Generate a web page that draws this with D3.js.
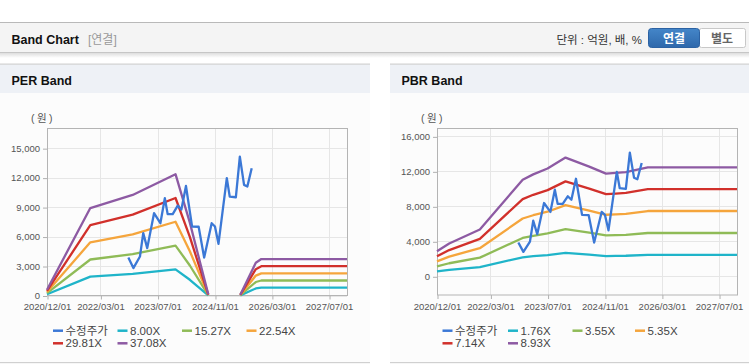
<!DOCTYPE html>
<html><head><meta charset="utf-8">
<script src="https://cdn.jsdelivr.net/npm/d3@7/dist/d3.min.js"></script>
<style>
body{margin:0;background:#fff;}
svg{display:block;font-family:"Liberation Sans",Arial,"Noto Sans CJK KR",sans-serif;}
</style>
</head><body>
<svg id="c" width="749" height="364"></svg>
<script>
// ---------- DATA ----------
const xTickDates = ["2020-12-01","2022-03-01","2023-07-01","2024-11-01","2026-03-01","2027-07-01"];
const xTickLabels = ["2020/12/01","2022/03/01","2023/07/01","2024/11/01","2026/03/01","2027/07/01"];

// 수정주가 (adjusted price) – shared by both charts
const priceDates = ["2022-10-25","2022-12-07","2023-02-01","2023-03-01","2023-04-04","2023-06-01","2023-07-25",
  "2023-09-01","2023-09-25","2023-11-07","2023-12-20","2024-01-20","2024-02-28","2024-04-20","2024-06-15",
  "2024-08-01","2024-10-04","2024-11-01","2024-12-01","2025-02-10","2025-03-07","2025-04-28","2025-06-01",
  "2025-07-07","2025-08-04","2025-09-10"];
const priceValues = [3860,2790,3970,6350,4820,8380,7360,9900,8280,8280,9150,8750,11150,7020,7000,
  3860,7360,7020,5260,11940,10070,10000,14140,11260,11090,12960];

// PER band
const perBandDates = ["2020-12-01","2021-12-05","2022-12-01","2023-12-01","2024-04-01","2024-09-05",
  "2025-01-01","2025-06-05","2025-10-15","2025-12-01","2027-12-01"];
const perLabels = ["8.00X","15.27X","22.54X","29.81X","37.08X"];
const per800  = [128,1920,2208,2664,1600,24,null,16,720,800,800];
const per1527 = [244,3665,4215,5085,3054,46,null,31,1374,1527,1527];
const per2254 = [361,5410,6221,7506,4508,68,null,45,2029,2254,2254];
const per2981 = [477,7154,8228,9927,5962,89,null,60,2683,2981,2981];
const per3708 = [593,8899,10234,12348,7416,111,null,74,3337,3708,3708];
const perYTicks = [0,3000,6000,9000,12000,15000];

// PBR band
const pbrBandDates = ["2020-12-01","2021-03-15","2021-12-01","2022-12-01","2023-03-01","2023-07-01",
  "2023-12-01","2024-06-20","2024-11-10","2025-02-01","2025-04-28","2025-11-01","2027-12-01"];
const pbrLabels = ["1.76X","3.55X","5.35X","7.14X","8.93X"];
const pbr176 = [563,739,1056,2174,2297,2429,2675,2473,2314,2332,2350,2455,2455];
const pbr355 = [1136,1491,2130,4384,4633,4899,5396,4988,4668,4704,4739,4952,4952];
const pbr535 = [1712,2247,3210,6607,6982,7383,8132,7517,7035,7089,7142,7463,7463];
const pbr714 = [2285,2999,4284,8818,9318,9853,10853,10032,9389,9461,9532,9960,9960];
const pbr893 = [2858,3751,5358,11029,11654,12323,13574,12547,11743,11832,11922,12457,12457];
const pbrYTicks = [0,4000,8000,12000,16000];

const priceLabel = "수정주가";
const colors = ["#3b78d6","#1fb4c9","#8fbb57","#f5a53c","#d1302b","#8d5aa3"];

// ---------- DRAW ----------
const svg = d3.select("#c");
const parse = d3.timeParse("%Y-%m-%d");
const defs = svg.append("defs");
const sh = defs.append("linearGradient").attr("id","sh").attr("x1",0).attr("y1",0).attr("x2",0).attr("y2",1);
sh.append("stop").attr("offset","0").attr("stop-color","#000").attr("stop-opacity",0.13);
sh.append("stop").attr("offset","1").attr("stop-color","#000").attr("stop-opacity",0);
const bg = defs.append("linearGradient").attr("id","btn").attr("x1",0).attr("y1",0).attr("x2",0).attr("y2",1);
bg.append("stop").attr("offset","0").attr("stop-color","#4486c9");
bg.append("stop").attr("offset","1").attr("stop-color","#2e68ab");

// Header bar
svg.append("rect").attr("x",0).attr("y",22).attr("width",749).attr("height",31).attr("fill","#f4f4f4");
svg.append("rect").attr("x",0).attr("y",22).attr("width",749).attr("height",1).attr("fill","#b9b9b9");
svg.append("rect").attr("x",0).attr("y",52).attr("width",749).attr("height",1).attr("fill","#c6c6c6");
svg.append("rect").attr("x",0).attr("y",53).attr("width",749).attr("height",5).attr("fill","url(#sh)");
svg.append("text").attr("x",11.5).attr("y",43.5).attr("font-size",12.5).attr("font-weight","bold").attr("fill","#111").text("Band Chart");
svg.append("text").attr("x",88).attr("y",43.5).attr("font-size",12).attr("fill","#999").text("[연결]");
svg.append("text").attr("x",642).attr("y",43.5).attr("font-size",11.5).attr("text-anchor","end").attr("fill","#333").text("단위 : 억원, 배, %");
svg.append("rect").attr("x",699.5).attr("y",28.5).attr("width",46).attr("height",19).attr("rx",2).attr("fill","#fff").attr("stroke","#c8c8c8");
svg.append("rect").attr("x",648.5).attr("y",28.5).attr("width",51).attr("height",19).attr("rx",3).attr("fill","url(#btn)").attr("stroke","#2c62a3");
svg.append("text").attr("x",674).attr("y",42.5).attr("font-size",12).attr("font-weight","bold").attr("text-anchor","middle").attr("fill","#fff").text("연결");
svg.append("text").attr("x",722).attr("y",42.5).attr("font-size",12).attr("font-weight","bold").attr("text-anchor","middle").attr("fill","#666").text("별도");

function panel(cfg){
  const g = svg.append("g");
  // panel chrome
  g.append("rect").attr("x",cfg.px).attr("y",93).attr("width",cfg.pw).attr("height",269).attr("fill","#fcfcfc");
  g.append("rect").attr("x",cfg.px).attr("y",64).attr("width",cfg.pw).attr("height",29).attr("fill","#eef1f6");
  g.append("rect").attr("x",cfg.px).attr("y",63.5).attr("width",cfg.pw).attr("height",1.2).attr("fill","#d2d2d2");
  g.append("rect").attr("x",cfg.px).attr("y",362).attr("width",cfg.pw).attr("height",1.2).attr("fill","#d0d0d0");
  g.append("text").attr("x",cfg.px+11.5).attr("y",84.5).attr("font-size",12.5).attr("font-weight","bold").attr("fill","#111").text(cfg.title);

  const x = d3.scaleTime().domain([parse("2020-12-01"),parse("2027-12-01")]).range([cfg.left,cfg.left+300]);
  const y = d3.scaleLinear().domain(cfg.ydom).range([cfg.bottom,128.5]);

  // grid
  g.append("g").selectAll("line").data(cfg.yticks).join("line")
    .attr("x1",cfg.left).attr("x2",cfg.left+300).attr("y1",d=>Math.round(y(d))+0.5).attr("y2",d=>Math.round(y(d))+0.5)
    .attr("stroke","#e6e6e6");
  g.append("g").selectAll("line").data(xTickDates.slice(1)).join("line")
    .attr("x1",d=>Math.round(x(parse(d)))+0.5).attr("x2",d=>Math.round(x(parse(d)))+0.5)
    .attr("y1",128.5).attr("y2",cfg.bottom).attr("stroke","#e6e6e6");

  // axes
  const ya = d3.axisLeft(y).tickValues(cfg.yticks).tickSize(4).tickPadding(3).tickFormat(d3.format(","));
  const ga = g.append("g").attr("transform",`translate(${cfg.left},0)`).call(ya);
  ga.select(".domain").remove();
  ga.selectAll("line").attr("stroke","#b0b0b0").attr("transform","translate(0,0.5)");
  ga.selectAll("text").attr("font-size",9.5).attr("fill","#555").attr("font-family","Liberation Sans, Arial, sans-serif");

  const xa = d3.axisBottom(x).tickValues(xTickDates.map(parse)).tickSize(4).tickPadding(4)
    .tickFormat((d,i)=>xTickLabels[i]);
  const gx = g.append("g").attr("transform",`translate(0,${cfg.bottom})`).call(xa);
  gx.select(".domain").remove();
  gx.selectAll("line").attr("stroke","#b0b0b0").attr("transform","translate(0.5,0)");
  gx.selectAll("text").attr("font-size",9.5).attr("fill","#555").attr("font-family","Liberation Sans, Arial, sans-serif");

  // border
  g.append("rect").attr("x",cfg.left+0.5).attr("y",128.5).attr("width",300).attr("height",cfg.bottom-128.5)
    .attr("fill","none").attr("stroke","#b4b4b4");

  g.append("text").attr("x",cfg.left-4).attr("y",121.5).attr("font-size",10.5).attr("fill","#555")
    .attr("text-anchor","middle").attr("letter-spacing",2.5).text("(원)");

  // bands
  const bDates = cfg.bandDates.map(parse);
  const line = d3.line().defined(d=>d[1]!=null).x(d=>x(d[0])).y(d=>y(d[1]));
  cfg.bands.forEach((arr,i)=>{
    g.append("path").datum(arr.map((v,j)=>[bDates[j],v])).attr("d",line)
      .attr("fill","none").attr("stroke",colors[i+1]).attr("stroke-width",2.3).attr("stroke-linejoin","round");
  });
  // price
  g.append("path").datum(priceValues.map((v,j)=>[parse(priceDates[j]),v])).attr("d",line)
    .attr("fill","none").attr("stroke",colors[0]).attr("stroke-width",2.3).attr("stroke-linejoin","round");

  // legend
  const names = [priceLabel].concat(cfg.labels);
  names.forEach((n,i)=>{
    const row = i<4?0:1, col = i<4?i:i-4;
    const tx = cfg.legendX[row][col];
    const ty = row===0?330.7:343.3;
    g.append("line").attr("x1",tx-12.5).attr("x2",tx-2.5).attr("y1",ty).attr("y2",ty)
      .attr("stroke",colors[i]).attr("stroke-width",2.5);
    g.append("text").attr("x",tx).attr("y",ty+4).attr("font-size",11.5).attr("fill","#444").text(n);
  });
}

panel({px:0,pw:370,title:"PER Band",left:47,bottom:295.5,ydom:[0,17000],yticks:perYTicks,
  bandDates:perBandDates,bands:[per800,per1527,per2254,per2981,per3708],labels:perLabels,
  legendX:[[65.5,130,194.5,259],[65.5,130]]});
panel({px:390,pw:359,title:"PBR Band",left:437,bottom:295,ydom:[-2140,16900],yticks:pbrYTicks,
  bandDates:pbrBandDates,bands:[pbr176,pbr355,pbr535,pbr714,pbr893],labels:pbrLabels,
  legendX:[[455,520.5,585,647.5],[455,520.5]]});
</script>
</body></html>
